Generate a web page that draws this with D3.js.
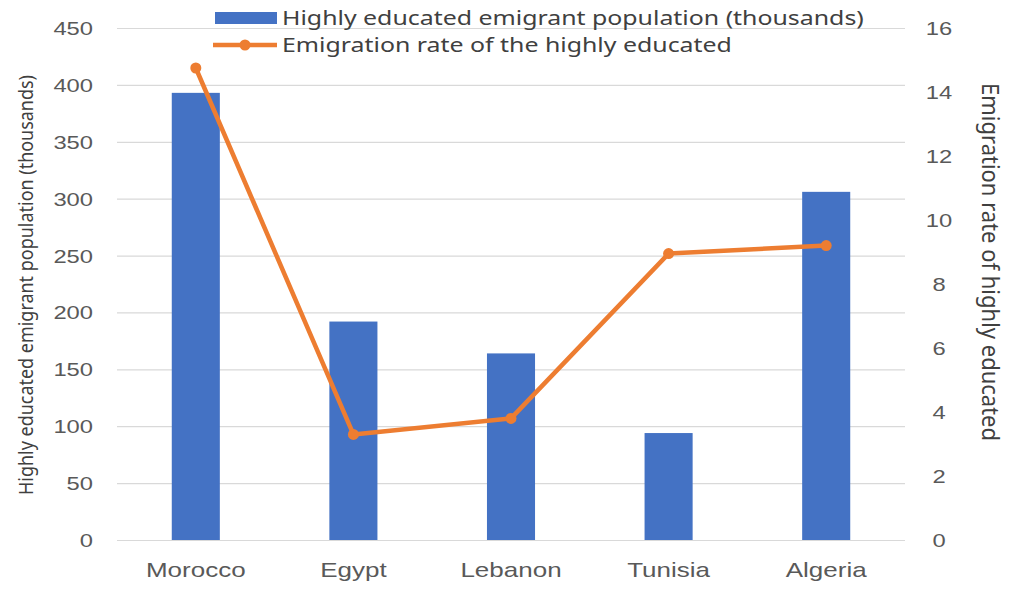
<!DOCTYPE html>
<html>
<head>
<meta charset="utf-8">
<script src="https://cdn.jsdelivr.net/npm/d3@7"></script>
<style>
  body { margin: 0; background: #fff; }
  svg { display: block; font-family: "Noto Sans", "Open Sans", sans-serif; }
</style>
</head>
<body>
<svg id="chart" width="1010" height="599"></svg>
<script>
const categories = ["Morocco", "Egypt", "Lebanon", "Tunisia", "Algeria"];
const population = [393, 192, 164, 94, 306];
const rate = [14.75, 3.3, 3.8, 8.95, 9.2];
const leftTicks = [0, 50, 100, 150, 200, 250, 300, 350, 400, 450];
const rightTicks = [0, 2, 4, 6, 8, 10, 12, 14, 16];

const plot = { left: 117, right: 905, top: 28, bottom: 540 };
const stretch = 'scale(1.25,1)';
const textColor = '#595959';

const svg = d3.select('#chart');

const x = d3.scaleBand()
  .domain(categories)
  .range([plot.left, plot.right])
  .paddingInner(0.695)
  .paddingOuter(0.3475);
const yL = d3.scaleLinear().domain([0, 450]).range([plot.bottom, plot.top]);
const yR = d3.scaleLinear().domain([0, 16]).range([plot.bottom, plot.top]);

// gridlines + left labels
const gLeft = svg.append('g')
  .attr('transform', `translate(${plot.left},0)`)
  .call(d3.axisLeft(yL).tickValues(leftTicks).tickSize(-(plot.right - plot.left)).tickFormat(d3.format('d')));
gLeft.select('.domain').remove();
gLeft.selectAll('.tick line').attr('stroke', '#d9d9d9').attr('stroke-width', 1.2);
gLeft.selectAll('.tick text')
  .attr('x', 0).attr('dy', '0.34em')
  .attr('transform', `translate(-24,0) ${stretch}`)
  .attr('fill', textColor).style('font-size', '19px');

// right labels
const gRight = svg.append('g')
  .attr('transform', `translate(${plot.right},0)`)
  .call(d3.axisRight(yR).tickValues(rightTicks).tickSize(0));
gRight.select('.domain').remove();
gRight.selectAll('.tick text')
  .attr('x', 0).attr('dy', '0.34em')
  .attr('text-anchor', 'middle')
  .attr('transform', `translate(34,0) ${stretch}`)
  .attr('fill', textColor).style('font-size', '19px');

// x labels
const gX = svg.append('g')
  .attr('transform', `translate(0,${plot.bottom})`)
  .call(d3.axisBottom(x).tickSize(0));
gX.select('.domain').remove();
gX.selectAll('.tick text')
  .attr('y', 0).attr('dy', '0.71em')
  .attr('transform', `translate(0,23) scale(1.3,1)`)
  .attr('fill', textColor).style('font-size', '20px');

// bars
svg.append('g').selectAll('rect')
  .data(categories)
  .join('rect')
  .attr('x', d => x(d))
  .attr('width', x.bandwidth())
  .attr('y', (d, i) => yL(population[i]))
  .attr('height', (d, i) => yL(0) - yL(population[i]))
  .attr('fill', '#4472c4');

// line
const pts = categories.map((c, i) => [x(c) + x.bandwidth() / 2, yR(rate[i])]);
svg.append('path')
  .datum(pts)
  .attr('d', d3.line())
  .attr('fill', 'none')
  .attr('stroke', '#ed7d31')
  .attr('stroke-width', 4.5)
  .attr('stroke-linejoin', 'round');
svg.append('g').selectAll('circle')
  .data(pts)
  .join('circle')
  .attr('cx', d => d[0]).attr('cy', d => d[1]).attr('r', 5.5)
  .attr('fill', '#ed7d31');

// axis titles
svg.append('text')
  .attr('transform', `translate(33,285) ${stretch} rotate(-90)`)
  .attr('text-anchor', 'middle')
  .attr('fill', '#404040')
  .attr('textLength', 420).attr('lengthAdjust', 'spacingAndGlyphs')
  .style('font-size', '16px')
  .text('Highly educated emigrant population (thousands)');

svg.append('text')
  .attr('transform', `translate(982,262) scale(1.1,1) rotate(90)`)
  .attr('text-anchor', 'middle')
  .attr('fill', '#404040')
  .style('font-size', '22px')
  .text('Emigration rate of highly educated');

// legend
const legend = svg.append('g');
legend.append('rect')
  .attr('x', 215).attr('y', 12).attr('width', 62).attr('height', 12)
  .attr('fill', '#4472c4');
legend.append('text')
  .attr('transform', `translate(282,25) scale(1.31,1)`)
  .attr('fill', '#404040').style('font-size', '19px')
  .text('Highly educated emigrant population (thousands)');
legend.append('line')
  .attr('x1', 213).attr('x2', 277).attr('y1', 45).attr('y2', 45)
  .attr('stroke', '#ed7d31').attr('stroke-width', 4.5);
legend.append('circle')
  .attr('cx', 245).attr('cy', 45).attr('r', 5.5).attr('fill', '#ed7d31');
legend.append('text')
  .attr('transform', `translate(282,52) scale(1.31,1)`)
  .attr('fill', '#404040').style('font-size', '19px')
  .text('Emigration rate of the highly educated');
</script>
</body>
</html>
